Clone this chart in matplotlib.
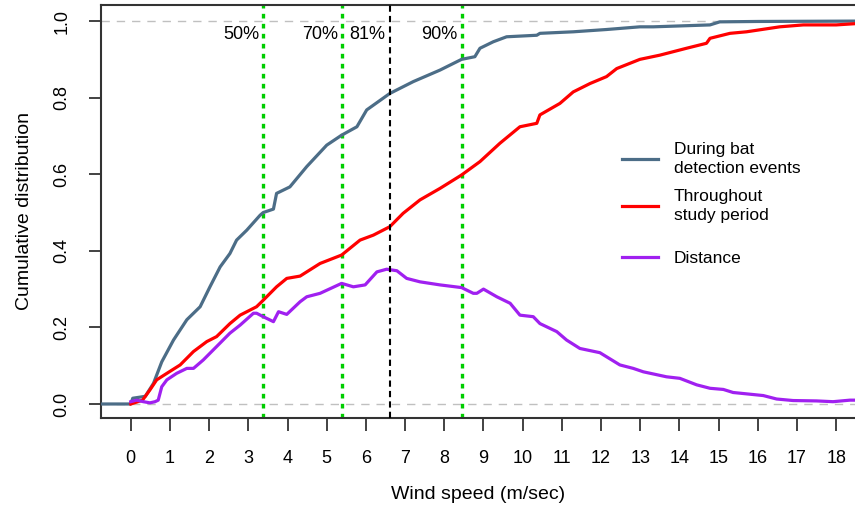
import matplotlib
matplotlib.use('Agg')
import matplotlib.pyplot as plt

plt.rcParams['font.family'] = ['Liberation Sans', 'DejaVu Sans']

# ECDF during bat detection events
blue_x = [-0.8, 0.0, 0.05, 0.37, 0.58, 0.79, 1.09, 1.43, 1.77, 2.02, 2.28, 2.53, 2.70, 2.96, 3.30,
          3.38, 3.64, 3.72, 4.06, 4.49, 5.0, 5.38, 5.77, 6.02, 6.61, 7.21, 7.89, 8.44, 8.78, 8.91,
          9.25, 9.59, 10.36, 10.44, 11.29, 12.14, 12.99, 13.33, 14.78, 15.03, 16.0, 18.6]
blue_y = [0, 0, 0.015, 0.02, 0.054, 0.11, 0.167, 0.22, 0.254, 0.306, 0.358, 0.393, 0.428, 0.454, 0.493,
          0.50, 0.509, 0.55, 0.567, 0.62, 0.676, 0.702, 0.724, 0.768, 0.811, 0.842, 0.872, 0.90, 0.907, 0.929,
          0.946, 0.959, 0.963, 0.968, 0.972, 0.978, 0.985, 0.985, 0.99, 0.998, 0.999, 1.0]

# ECDF throughout study period
red_x = [0.0, 0.3, 0.49, 0.66, 0.92, 1.26, 1.6, 1.94, 2.19, 2.53, 2.79, 3.21, 3.38, 3.72, 3.98, 4.32,
         4.83, 5.38, 5.85, 6.19, 6.61, 6.95, 7.38, 7.89, 8.44, 8.91, 9.42, 9.93, 10.36, 10.44, 10.95,
         11.29, 11.72, 12.14, 12.40, 12.99, 13.50, 14.18, 14.69, 14.78, 15.29, 15.71, 16.56, 17.16, 18.0, 18.6]
red_y = [0, 0.01, 0.037, 0.063, 0.08, 0.102, 0.137, 0.163, 0.176, 0.21, 0.232, 0.254, 0.271, 0.306, 0.328, 0.334,
         0.367, 0.389, 0.428, 0.441, 0.463, 0.498, 0.533, 0.563, 0.598, 0.633, 0.681, 0.724, 0.733, 0.755, 0.785,
         0.815, 0.837, 0.855, 0.876, 0.90, 0.911, 0.929, 0.942, 0.955, 0.968, 0.972, 0.985, 0.99, 0.99, 0.994]

# distance between the two curves
purple_x = [0.0, 0.15, 0.32, 0.49, 0.62, 0.70, 0.79, 0.92, 1.17, 1.43, 1.6, 1.85, 2.19, 2.53, 2.79, 3.13,
            3.21, 3.38, 3.64, 3.77, 3.98, 4.32, 4.49, 4.83, 5.38, 5.68, 5.98, 6.28, 6.53, 6.79, 7.04, 7.38,
            7.89, 8.44, 8.74, 8.83, 9.0, 9.34, 9.68, 9.93, 10.27, 10.44, 10.87, 11.12, 11.46, 11.97, 12.48,
            12.82, 13.08, 13.67, 14.01, 14.44, 14.78, 15.12, 15.37, 16.14, 16.48, 16.90, 17.50, 17.92, 18.35, 18.6]
purple_y = [0.006, 0.01, 0.006, 0.003, 0.006, 0.01, 0.045, 0.063, 0.08, 0.093, 0.093, 0.115, 0.15, 0.185, 0.206, 0.237,
            0.237, 0.228, 0.215, 0.241, 0.234, 0.267, 0.28, 0.289, 0.315, 0.306, 0.311, 0.345, 0.352, 0.348, 0.328, 0.319,
            0.311, 0.304, 0.289, 0.289, 0.300, 0.28, 0.263, 0.232, 0.228, 0.21, 0.189, 0.167, 0.145, 0.134, 0.102,
            0.093, 0.084, 0.071, 0.067, 0.05, 0.041, 0.038, 0.03, 0.022, 0.013, 0.009, 0.008, 0.006, 0.01, 0.01]

pct_x = [3.38, 5.40, 8.44]
pct_labels = ['50%', '70%', '90%']
mark_x = 6.61
mark_label = '81%'

fig = plt.figure(figsize=(8.55, 5.14), dpi=100)
ax = fig.add_axes([101 / 855, 1 - 418 / 514, 754 / 855, 413 / 514])

# reference lines
ax.axhline(0, color='#c0c0c0', lw=1, ls=(0, (6, 5)), zorder=1)
ax.axhline(1, color='#c0c0c0', lw=1, ls=(0, (6, 5)), zorder=1)

l1, = ax.plot(blue_x, blue_y, color='#4c6d87', lw=2.3, zorder=3)
l2, = ax.plot(red_x, red_y, color='#ff0000', lw=2.3, zorder=3)
l3, = ax.plot(purple_x, purple_y, color='#a020f0', lw=2.3, zorder=3)

for x, lab in zip(pct_x, pct_labels):
    ax.axvline(x, color='#00cd00', lw=2.4, ls=(0, (1.4, 1.6)), zorder=2)
    ax.annotate(lab, (x, 0.965), xytext=(-3, 0), textcoords='offset points',
                ha='right', va='center', fontsize=13)
ax.axvline(mark_x, color='black', lw=1.5, ls=(0, (3, 2)), zorder=4)
ax.annotate(mark_label, (mark_x, 0.965), xytext=(-3, 0), textcoords='offset points',
            ha='right', va='center', fontsize=13)

ax.set_xlim(-0.76, 18.48)
ax.set_ylim(-0.0366, 1.042)
ax.set_xticks(range(0, 19))
ax.set_yticks([0, 0.2, 0.4, 0.6, 0.8, 1.0])
ax.set_yticklabels(['0.0', '0.2', '0.4', '0.6', '0.8', '1.0'], rotation=90, va='center')
ax.tick_params(axis='both', labelsize=13, length=9, width=1.2, color='#222222')
ax.tick_params(axis='x', pad=14)
ax.tick_params(axis='y', pad=13)

for s in ['left', 'top', 'bottom']:
    ax.spines[s].set_linewidth(1.5)
    ax.spines[s].set_color('#333333')
ax.spines['right'].set_visible(False)

ax.set_xlabel('Wind speed (m/sec)', fontsize=14, labelpad=14)
ax.set_ylabel('Cumulative distribution', fontsize=14, labelpad=15)

# legend in two parts to get the gap before "Distance"
leg_kw = dict(frameon=False, fontsize=12.5, handlelength=2.1, handletextpad=0.9,
              bbox_transform=fig.transFigure)
leg1 = ax.legend([l1, l2], ['During bat\ndetection events', 'Throughout\nstudy period'],
                 loc='upper left', bbox_to_anchor=(606 / 855, 1 - 126 / 514), labelspacing=0.75, **leg_kw)
for t in leg1.get_texts():
    t.set_linespacing(1.35)
ax.add_artist(leg1)
ax.legend([l3], ['Distance'], loc='center left', bbox_to_anchor=(606 / 855, 1 - 258 / 514), **leg_kw)

fig.savefig('out.png', dpi=100)
